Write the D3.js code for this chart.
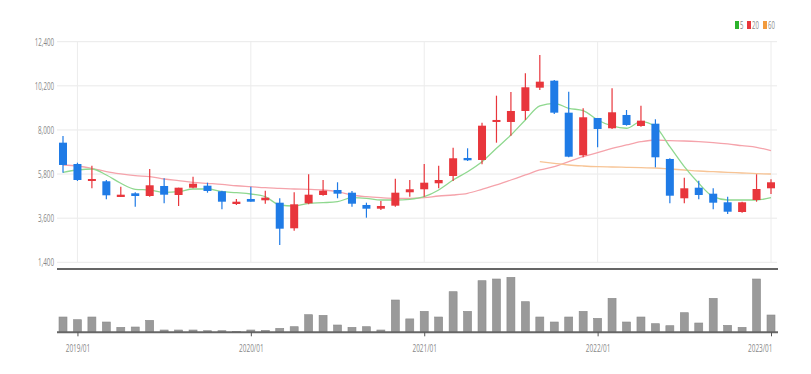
<!DOCTYPE html>
<html>
<head>
<meta charset="utf-8">
<script src="https://cdn.jsdelivr.net/npm/d3@7"></script>
<style>
  body { margin: 0; background: #fff; }
  text { font-family: "Open Sans", "DejaVu Sans", sans-serif; }
</style>
</head>
<body>
<div id="chart"></div>
<script>
// Monthly data, Dec 2018 .. Jan 2023
var months = ["2018/12",
  "2019/01","2019/02","2019/03","2019/04","2019/05","2019/06","2019/07","2019/08","2019/09","2019/10","2019/11","2019/12",
  "2020/01","2020/02","2020/03","2020/04","2020/05","2020/06","2020/07","2020/08","2020/09","2020/10","2020/11","2020/12",
  "2021/01","2021/02","2021/03","2021/04","2021/05","2021/06","2021/07","2021/08","2021/09","2021/10","2021/11","2021/12",
  "2022/01","2022/02","2022/03","2022/04","2022/05","2022/06","2022/07","2022/08","2022/09","2022/10","2022/11","2022/12",
  "2023/01"];
var open  = [7365,6302,5454,5440,4657,4841,4706,5205,4756,5120,5220,4941,4307,4557,4492,4372,3096,4342,4756,5006,4871,4258,4073,4223,4891,
             5041,5340,5704,6602,6502,8397,8397,8945,10107,10456,8861,6736,8596,8083,8746,8197,8312,6552,4592,5120,4821,4392,3908,4507,5090];
var close = [6253,5504,5554,4741,4771,4706,5240,4771,5120,5320,4956,4422,4422,4422,4622,3076,4292,4771,4971,4821,4322,4073,4208,4871,5041,
             5370,5504,6587,6487,8212,8497,8945,10127,10407,8861,6666,8631,8048,8880,8247,8462,6636,4721,5090,4756,4372,3923,4392,5055,5390];
var high  = [7699,6367,6217,5504,5170,4891,6053,5589,5120,5669,5370,4971,4557,5170,4971,4592,4891,5789,5504,5390,4956,4372,4457,5569,5504,
             6302,6217,7115,7085,8362,9708,9893,10825,11738,10491,9908,9080,8596,10077,8995,9210,8531,6587,5619,5469,5090,4672,4422,5789,5539];
var low   = [5869,5454,5090,4542,4657,4173,4672,4342,4208,5090,4871,4043,4258,4422,4322,2263,2976,4292,4721,4592,4173,3624,4008,4173,4672,
             4672,5090,5454,6452,6287,7365,7714,8497,9993,8796,6636,6636,7135,8048,8212,8162,6138,4342,4342,4542,4043,3809,3873,4422,4806];
var volume = [1530,1260,1530,1030,500,530,1200,230,230,230,160,160,100,230,200,400,560,1760,1700,730,500,560,230,3230,1340,
              2100,1530,4060,2100,5160,5330,5500,3060,1530,1030,1530,2100,1400,3400,1030,1530,860,660,1960,930,3400,700,500,5330,1730];
var ma5  = [5888,6003,6053,5754,5340,5040,5006,4891,4921,5055,5055,4921,4871,4806,4672,4258,4208,4342,4372,4422,4622,4592,4507,4507,4542,
            4672,5006,5504,5918,6417,7085,7748,8497,9195,9329,9080,8960,8497,8197,8083,8412,8162,7165,6168,5340,4672,4507,4507,4507,4622];
var ma20 = [6252,6202,6088,5918,5804,5719,5669,5554,5469,5387,5337,5287,5217,5170,5120,5090,5055,5040,5006,4921,4756,4672,4622,4592,4592,
            4622,4706,4756,4841,5040,5255,5504,5754,6003,6168,6417,6666,6866,7085,7250,7414,7499,7464,7449,7414,7365,7300,7215,7135,6966];
var ma60 = [null,null,null,null,null,null,null,null,null,null,null,null,null,null,null,null,null,null,null,null,null,null,null,null,null,
            null,null,null,null,null,null,null,null,6417,6337,6252,6202,6168,6153,6138,6118,6103,6053,6003,5953,5918,5888,5853,5819,5804];
var priceTicks = [1400,3600,5800,8000,10200,12400];
var yearTicks = ["2019/01","2020/01","2021/01","2022/01","2023/01"];

var W = 811, H = 374;
var plotLeft = 57, plotRight = 777;

var svg = d3.select("#chart").append("svg")
  .attr("width", W).attr("height", H);
svg.append("rect").attr("width", W).attr("height", H).attr("fill", "#fff");

var x = d3.scalePoint().domain(months).range([63, 771]);
var y = d3.scaleLinear().domain([1400, 12400]).range([262.3, 41.7]);
var yv = d3.scaleLinear().domain([0, 5500]).range([332.3, 277.3]);

var red = "#e8363c", blue = "#1f7be6";

// narrow text helper
function narrow(sel, per) {
  sel.attr("textLength", function() { return this.textContent.length * per; })
     .attr("lengthAdjust", "spacingAndGlyphs");
}

// horizontal grid
svg.append("g").selectAll("line").data(priceTicks).join("line")
  .attr("x1", plotLeft).attr("x2", plotRight)
  .attr("y1", function(d) { return y(d); }).attr("y2", function(d) { return y(d); })
  .attr("stroke", "#e9e9e9").attr("stroke-width", 1);

// vertical grid at years
svg.append("g").selectAll("line").data(yearTicks).join("line")
  .attr("x1", function(d) { return x(d); }).attr("x2", function(d) { return x(d); })
  .attr("y1", 41.7).attr("y2", 262.3)
  .attr("stroke", "#ececec").attr("stroke-width", 1);

// y axis labels
var yAxis = svg.append("g")
  .attr("transform", "translate(" + plotLeft + ",0)")
  .call(d3.axisLeft(y).tickValues(priceTicks).tickFormat(d3.format(",")).tickSize(0).tickPadding(3));
yAxis.select(".domain").remove();
yAxis.selectAll("text").attr("fill", "#888").style("font-size", "11px").call(narrow, 3.2);

// separator line
svg.append("line").attr("x1", plotLeft).attr("x2", 778).attr("y1", 269).attr("y2", 269)
  .attr("stroke", "#333").attr("stroke-width", 1.6);

// moving averages
var maLines = [{data: ma20, color: "#f5a3ab"}, {data: ma60, color: "#f7c495"}, {data: ma5, color: "#8fd88f"}];
maLines.forEach(function(item) {
  svg.append("path")
    .datum(item.data)
    .attr("fill", "none")
    .attr("stroke", item.color)
    .attr("stroke-width", 1.3)
    .attr("d", d3.line()
      .defined(function(d) { return d != null; })
      .x(function(d, i) { return x(months[i]); })
      .y(function(d) { return y(d); })
      .curve(d3.curveMonotoneX));
});

// candles
var bw = 8;
var candles = svg.append("g").selectAll("g").data(months).join("g");
candles.append("line")
  .attr("x1", function(d) { return x(d); }).attr("x2", function(d) { return x(d); })
  .attr("y1", function(d, i) { return y(high[i]); })
  .attr("y2", function(d, i) { return y(low[i]); })
  .attr("stroke", function(d, i) { return close[i] >= open[i] ? red : blue; })
  .attr("stroke-width", 1.2);
candles.append("rect")
  .attr("x", function(d) { return x(d) - bw / 2; })
  .attr("width", bw)
  .attr("y", function(d, i) { return y(Math.max(open[i], close[i])); })
  .attr("height", function(d, i) { return Math.max(2, Math.abs(y(open[i]) - y(close[i]))); })
  .attr("fill", function(d, i) { return close[i] >= open[i] ? red : blue; });

// volume bars
svg.append("g").selectAll("rect").data(months).join("rect")
  .attr("x", function(d) { return x(d) - 4; })
  .attr("width", 8)
  .attr("y", function(d, i) { return yv(volume[i]); })
  .attr("height", function(d, i) { return yv(0) - yv(volume[i]); })
  .attr("fill", "#9a9a9a")
  .attr("stroke", "#8a8a8a").attr("stroke-width", 0.6);

// volume x axis
var xAxis = svg.append("g")
  .attr("transform", "translate(0," + yv(0) + ")")
  .call(d3.axisBottom(x).tickValues(yearTicks).tickSize(4).tickPadding(8));
xAxis.select(".domain").attr("d", "M" + plotLeft + ",0H778").attr("stroke", "#666").attr("stroke-width", 2);
xAxis.selectAll(".tick line").attr("stroke", "#555");
xAxis.selectAll("text").attr("fill", "#888").style("font-size", "11px").call(narrow, 3.5);
// last label is kept inside the plot
xAxis.selectAll("text").filter(function(d) { return d === yearTicks[yearTicks.length - 1]; })
  .attr("text-anchor", "end").attr("x", 1);

// legend
var legend = [{label: "5", color: "#2bb32b", x: 735}, {label: "20", color: "#e8363c", x: 747}, {label: "60", color: "#f29a3c", x: 763}];
var lg = svg.append("g").selectAll("g").data(legend).join("g");
lg.append("rect")
  .attr("x", function(d) { return d.x; }).attr("y", 21)
  .attr("width", 4).attr("height", 8)
  .attr("fill", function(d) { return d.color; });
lg.append("text")
  .attr("x", function(d) { return d.x + 5; }).attr("y", 29)
  .attr("fill", "#888").style("font-size", "10px")
  .text(function(d) { return d.label; })
  .call(narrow, 3.4);
</script>
</body>
</html>
